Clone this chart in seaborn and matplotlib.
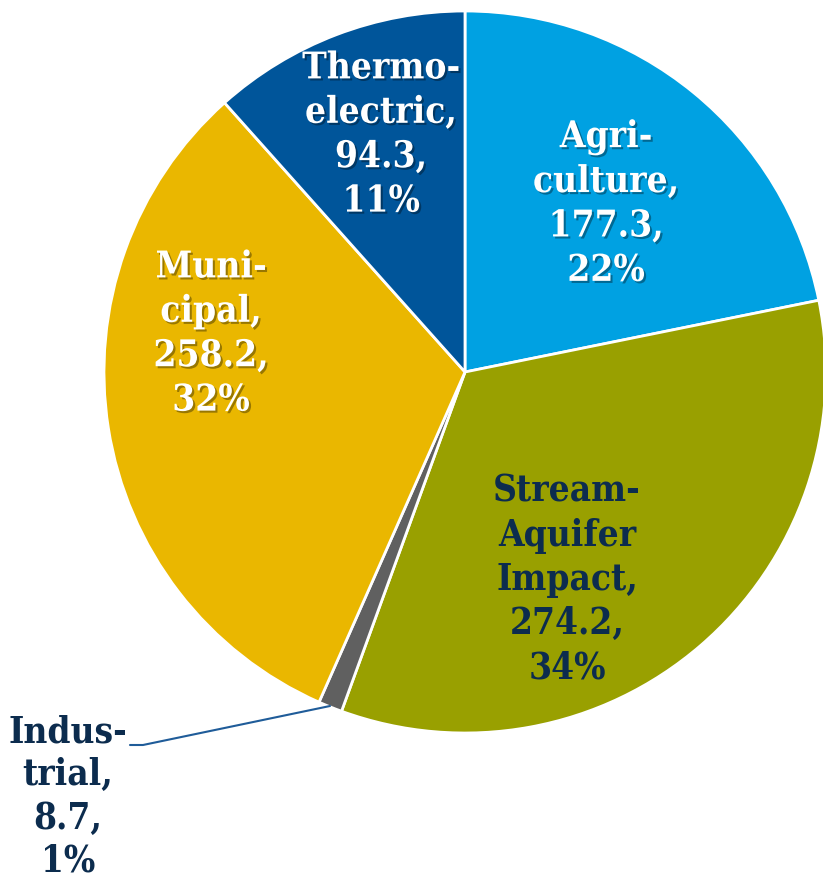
import matplotlib
matplotlib.use("Agg")
import matplotlib.pyplot as plt
import matplotlib.patheffects as pe
import seaborn as sns

# ---------------------------------------------------------------------------
# Data
# ---------------------------------------------------------------------------
categories = ["Agriculture", "Stream-Aquifer Impact", "Industrial", "Municipal", "Thermoelectric"]
values = [177.3, 274.2, 8.7, 258.2, 94.3]
percents = ["22%", "34%", "1%", "32%", "11%"]
label_names = ["Agri-\nculture,", "Stream-\nAquifer\nImpact,", "Indus-\ntrial,", "Muni-\ncipal,", "Thermo-\nelectric,"]
colors = ["#00A1E2", "#99A000", "#606060", "#EAB700", "#00559A"]
text_colors = ["white", "#0C2C4E", "#0C2C4E", "white", "white"]

# label centres in pixel coords (y from top)
label_pos = [(606, 204), (567, 580), (68, 797), (211, 334), (381, 135)]

W, H = 823, 883

sns.set_theme(style="white")
plt.rcParams["font.family"] = ["DejaVu Serif"]

fig = plt.figure(figsize=(W / 100, H / 100), dpi=100)
ax = fig.add_axes([0, 0, 1, 1])

ax.pie(values, colors=colors, startangle=90, counterclock=False,
       center=(465, H - 372), radius=361,
       wedgeprops=dict(edgecolor="white", linewidth=2))

# pie() resets the limits, so set them afterwards
ax.set_xlim(0, W)
ax.set_ylim(0, H)
ax.set_aspect("equal")
ax.axis("off")

shadow = [pe.SimplePatchShadow(offset=(1.5, -1.5), shadow_rgbFace="black", alpha=0.35), pe.Normal()]

for name, v, p, c, (x, y) in zip(label_names, values, percents, text_colors, label_pos):
    txt = f"{name}\n{v:.1f},\n{p}"
    effects = shadow if c == "white" else None
    ls = 1.26 if name.startswith("Indus") else 1.3
    ax.text(x, H - y, txt, ha="center", va="center", color=c, fontsize=26.5,
            fontweight="bold", fontstretch="condensed", linespacing=ls,
            path_effects=effects)

# leader line for Industrial
ax.plot([330, 143, 130], [H - 706, H - 745, H - 745], color="#1F5C99", linewidth=1.5)

fig.savefig("out.png", dpi=100)
